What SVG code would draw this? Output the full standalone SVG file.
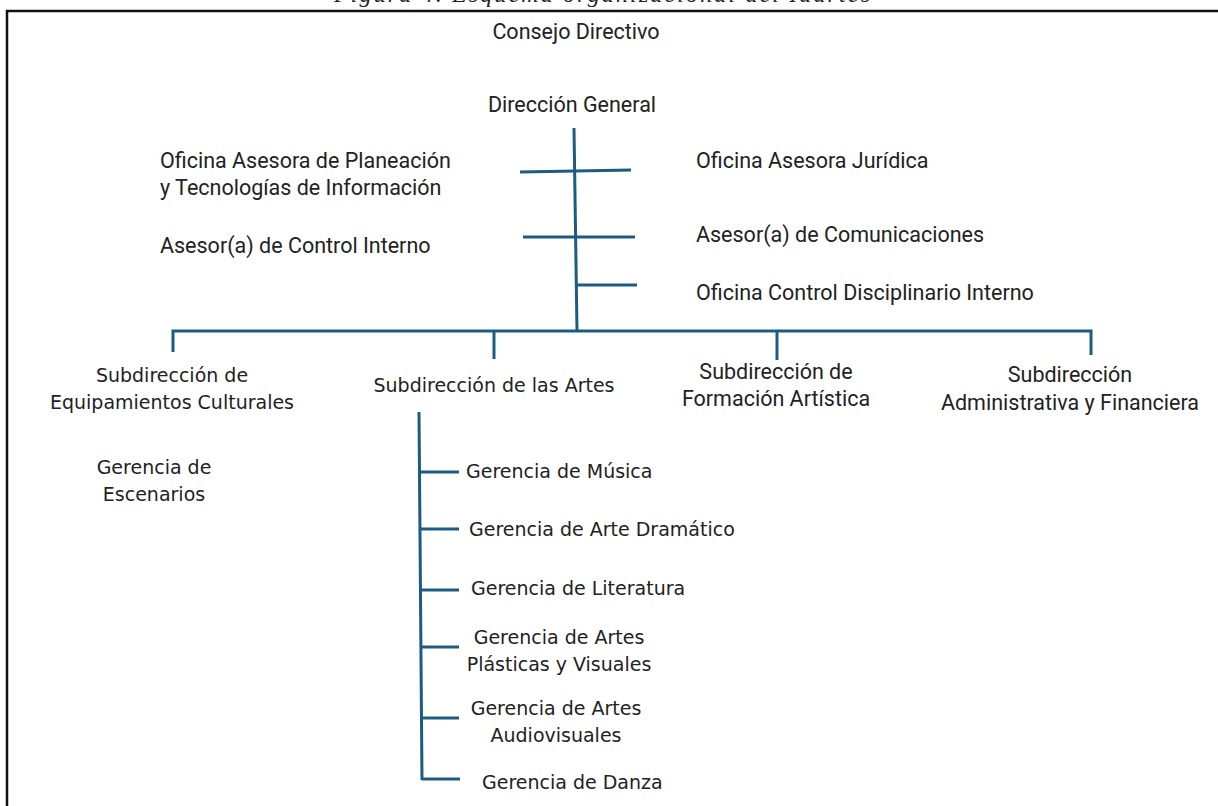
<svg xmlns="http://www.w3.org/2000/svg" width="1218" height="806" viewBox="0 0 1218 806">
<style>
.cap{font-family:"Liberation Serif",serif;font-style:italic;font-size:24px;fill:#222}
.t{font-family:Roboto,"Liberation Sans",sans-serif;font-size:21.5px;fill:#222}
.w{font-family:"DejaVu Sans","Liberation Sans",sans-serif;font-size:19px;fill:#222}
.c{text-anchor:middle}
.ln{stroke:#1d5c82;stroke-width:3;fill:none;stroke-linecap:butt}
</style>
<rect width="1218" height="806" fill="#fff"/>
<text class="cap" x="334" y="1.5" textLength="536" lengthAdjust="spacing">Figura 4. Esquema organizacional del Idartes</text>
<path d="M7 820 V11 H1230" stroke="#111" stroke-width="2.5" fill="none"/>
<g id="connectors">
<path class="ln" d="M574 128 L577 331"/>
<path class="ln" d="M520 172 L631 170"/>
<path class="ln" d="M523 237 H635"/>
<path class="ln" d="M577 285 H637"/>
<path class="ln" d="M173 352 V331 H1091 V355"/>
<path class="ln" d="M494 331 V359"/>
<path class="ln" d="M777 331 V360"/>
<path class="ln" d="M419 412 L422 780"/>
<path class="ln" d="M420 472 H459"/>
<path class="ln" d="M420 529 H459"/>
<path class="ln" d="M421 590 H459"/>
<path class="ln" d="M421 647 H459"/>
<path class="ln" d="M421 718 H459"/>
<path class="ln" d="M422 779 H460"/>
</g>
<g id="consejo"><text class="t c" x="576" y="39">Consejo Directivo</text></g>
<g id="direccion"><text class="t c" x="572" y="112">Dirección General</text></g>
<g id="planeacion"><text class="t" x="160" y="168">Oficina Asesora de Planeación</text><text class="t" x="160" y="195">y Tecnologías de Información</text></g>
<g id="control-interno"><text class="t" x="160" y="253">Asesor(a) de Control Interno</text></g>
<g id="juridica"><text class="t" x="696" y="168">Oficina Asesora Jurídica</text></g>
<g id="comunicaciones"><text class="t" x="696" y="242">Asesor(a) de Comunicaciones</text></g>
<g id="disciplinario"><text class="t" x="696" y="300">Oficina Control Disciplinario Interno</text></g>
<g id="equipamientos"><text class="w c" x="172" y="382">Subdirección de</text><text class="w c" x="172" y="409">Equipamientos Culturales</text></g>
<g id="artes"><text class="w c" x="494" y="392">Subdirección de las Artes</text></g>
<g id="formacion"><text class="t c" x="776" y="379">Subdirección de</text><text class="t c" x="776" y="406">Formación Artística</text></g>
<g id="administrativa"><text class="t c" x="1070" y="382">Subdirección</text><text class="t c" x="1070" y="410">Administrativa y Financiera</text></g>
<g id="escenarios"><text class="w c" x="154" y="474">Gerencia de</text><text class="w c" x="154" y="501">Escenarios</text></g>
<g id="musica"><text class="w" x="466" y="478">Gerencia de Música</text></g>
<g id="dramatico"><text class="w" x="469" y="536">Gerencia de Arte Dramático</text></g>
<g id="literatura"><text class="w" x="471" y="595">Gerencia de Literatura</text></g>
<g id="plasticas"><text class="w c" x="559" y="644">Gerencia de Artes</text><text class="w c" x="559" y="671">Plásticas y Visuales</text></g>
<g id="audiovisuales"><text class="w c" x="556" y="715">Gerencia de Artes</text><text class="w c" x="556" y="742">Audiovisuales</text></g>
<g id="danza"><text class="w" x="482" y="789">Gerencia de Danza</text></g>
</svg>
